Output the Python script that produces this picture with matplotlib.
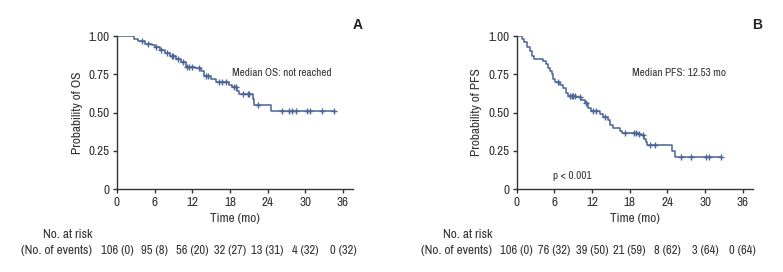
import matplotlib
matplotlib.use("Agg")
import matplotlib.pyplot as plt
import numpy as np

plt.rcParams['font.family'] = ['Archivo Narrow', 'DejaVu Sans']

# ---- Panel A: OS ----
os_times = [0, 2.7, 3.3, 4.5, 5.5, 6.0, 6.8, 7.6, 8.4, 9.4, 10.2, 11.0, 12.5, 13.4, 13.9,
            15.0, 15.8, 17.9, 18.4, 19.2, 19.5, 21.6, 21.9, 24.5]
os_surv = [1.0, 0.98, 0.97, 0.95, 0.94, 0.93, 0.91, 0.89, 0.87, 0.85, 0.83, 0.80, 0.79, 0.77, 0.74,
           0.72, 0.70, 0.68, 0.67, 0.64, 0.62, 0.59, 0.55, 0.51]
os_end = 34.6
os_censor = [4.0, 5.0, 6.2, 7.0, 8.0, 8.7, 9.0, 9.8, 10.5, 11.2, 11.5, 12.0, 13.0, 14.2, 14.5,
             16.2, 16.8, 17.3, 18.6, 18.9, 20.0, 20.8, 21.1, 22.4, 26.3, 27.4, 27.9, 28.6,
             30.3, 30.7, 32.6, 34.6]
os_risk = ["106 (0)", "95 (8)", "56 (20)", "32 (27)", "13 (31)", "4 (32)", "0 (32)"]

# ---- Panel B: PFS ----
pfs_times = [0, 0.8, 1.2, 1.6, 2.1, 2.5, 2.8, 4.2, 4.6, 4.9, 5.3, 5.6, 5.8, 6.1, 6.9, 7.4, 7.9,
             8.2, 9.5, 10.3, 10.8, 11.4, 11.9, 13.2, 13.8, 14.6, 14.8, 15.3, 16.4, 16.7, 19.3,
             19.8, 20.3, 20.6, 20.8, 24.8, 25.2]
pfs_surv = [1.0, 0.98, 0.96, 0.93, 0.90, 0.87, 0.85, 0.84, 0.82, 0.79, 0.77, 0.75, 0.72, 0.70,
            0.68, 0.66, 0.63, 0.61, 0.60, 0.58, 0.56, 0.53, 0.51, 0.49, 0.47, 0.45, 0.42, 0.40,
            0.38, 0.365, 0.36, 0.35, 0.33, 0.31, 0.29, 0.25, 0.21]
pfs_end = 32.5
pfs_censor = [6.5, 8.4, 8.8, 9.0, 9.3, 10.0, 11.0, 12.2, 12.6, 14.0, 17.2, 18.6, 19.0, 19.5,
              20.1, 21.2, 22.0, 26.1, 27.8, 30.2, 30.6, 32.5]
pfs_risk = ["106 (0)", "76 (32)", "39 (50)", "21 (59)", "8 (62)", "3 (64)", "0 (64)"]

xticks = [0, 6, 12, 18, 24, 30, 36]
yticks = [0, 0.25, 0.50, 0.75, 1.00]
yticklabels = ["0", "0.25", "0.50", "0.75", "1.00"]

color = '#4a6596'
tc = '#333333'
fs = 9.5
fig = plt.figure(figsize=(7.83, 2.72), dpi=100)

def surv_at(times, surv, t):
    idx = np.searchsorted(times, t, side='right') - 1
    return np.asarray(surv)[idx]

def panel(rect, times, surv, end, censor, risk, ylabel, median_txt, letter, pval=None):
    ax = fig.add_axes(rect)
    t = list(times) + [end]
    s = list(surv) + [surv[-1]]
    ax.step(t, s, where='post', color=color, lw=1.1)
    cy = surv_at(times, surv, censor)
    ax.plot(censor, cy, '+', color=color, ms=4.5, mew=1.0)
    ax.set_xlim(0, 37.6)
    ax.set_ylim(0, 1.0)
    ax.spines['top'].set_visible(False)
    ax.spines['right'].set_visible(False)
    for sp in ['left', 'bottom']:
        ax.spines[sp].set_linewidth(1.0)
        ax.spines[sp].set_color(tc)
    ax.set_xticks(xticks)
    ax.set_yticks(yticks)
    ax.set_yticklabels(yticklabels)
    ax.tick_params(direction='out', length=3, width=1, labelsize=fs, colors=tc,
                   labelcolor=tc, pad=2.5)
    ax.set_ylabel(ylabel, fontsize=fs, color=tc, labelpad=4)
    ax.set_xlabel("Time (mo)", fontsize=fs, color=tc, labelpad=3.5)
    ax.text(18.3, 0.76, median_txt, fontsize=8, color=tc, va='center', ha='left')
    if pval:
        ax.text(5.8, 0.085, pval, fontsize=8, color=tc, va='center', ha='left')
    ax.text(1.02, 1.07, letter, transform=ax.transAxes, fontsize=10, fontweight='bold',
            family='Liberation Sans', ha='center', va='center', color='#222222')
    tr = ax.get_xaxis_transform()
    for x, lab in zip(xticks, risk):
        ax.text(x, -0.40, lab, transform=tr, fontsize=9, ha='center', va='center', color=tc)
    ax.text(-0.105, -0.30, "No. at risk", transform=ax.transAxes, fontsize=fs, ha='right',
            va='center', color=tc)
    ax.text(-0.105, -0.40, "(No. of events)", transform=ax.transAxes, fontsize=fs, ha='right',
            va='center', color=tc)
    return ax

panel([0.1494, 0.305, 0.3014, 0.5625], os_times, os_surv, os_end, os_censor, os_risk,
      "Probability of OS", "Median OS: not reached", "A")
panel([0.660, 0.305, 0.3014, 0.5625], pfs_times, pfs_surv, pfs_end, pfs_censor, pfs_risk,
      "Probability of PFS", "Median PFS: 12.53 mo", "B", pval="p < 0.001")

fig.savefig("out.png", dpi=100)
